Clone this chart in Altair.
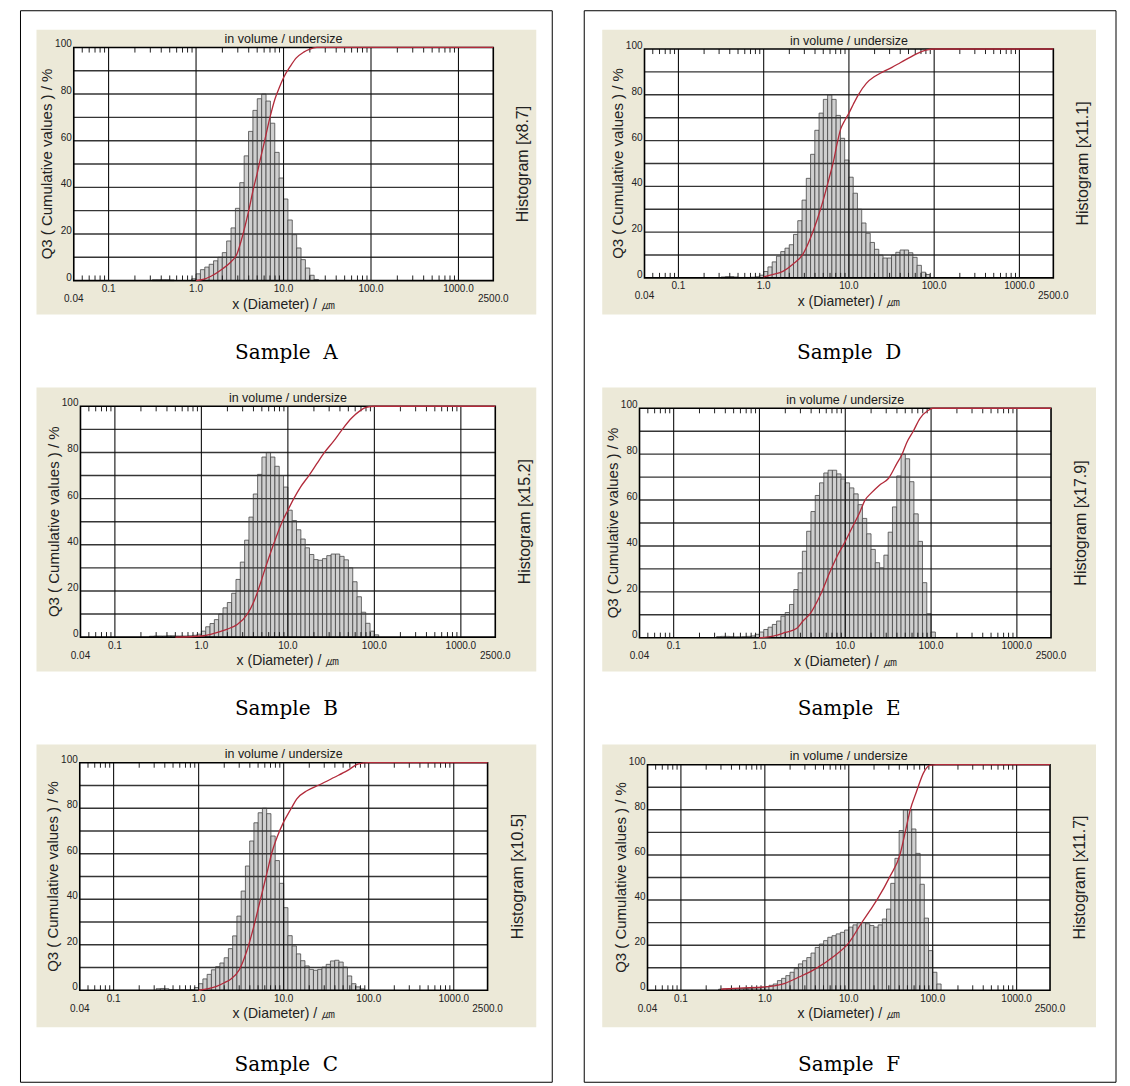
import altair as alt
import pandas as pd

# ---------------- data ----------------
# histogram classes: 20 log classes per decade, class k spans 10^(k/20) .. 10^((k+1)/20) µm
A_start = -10
A_hist = [0.4, 0.4, 0.4, 0.4, 0.3, 0, 0, 0, 0, 0.8,
          2.9, 4.7, 5.8, 7, 8.5, 10, 12, 17, 22.6, 31, 42, 53.5, 64, 73, 78, 80,
          77, 67.5, 55, 44, 35, 26, 19.7, 14, 9, 5.4, 2.3, 0.5]
A_cum_x = [1.0, 1.2, 1.5, 2.0, 2.5, 2.9, 3.5, 4.0, 4.5, 5.0, 5.5, 6.0, 7.0, 8.0, 9.0,
           10, 12, 14, 17, 20, 24, 2500]
A_cum_y = [0, 0.5, 2, 5, 8, 11, 21, 30, 39, 46, 53, 59, 70, 78, 83,
           87, 92, 95.5, 98, 99.3, 100, 100]

B_start = -12
B_hist = [0.4, 0.5, 0.5, 0.5, 0.6, 0.6, 0.5, 0.5, 0.5, 0.6, 0.8, 1.3,
          2.6, 4.5, 5.9, 7.6, 10, 12.7, 15, 19, 25, 32.5, 42, 52, 62, 70.5, 78, 80,
          78, 74, 70, 65, 55, 50.5, 46.5, 42.5, 38.7, 35.8, 33.6, 33.3, 34, 35.3,
          36, 36, 35, 33.5, 30, 24, 17.5, 10.8, 6, 2.6, 1]
B_cum_x = [0.5, 1.0, 1.5, 2.0, 2.6, 3.4, 4.0, 4.5, 5.5, 6.8, 8.6, 10, 11.7, 14, 17.5,
           21.5, 26.5, 34, 42.6, 55, 68, 80, 100, 2500]
B_cum_y = [0, 0.5, 2, 3.5, 5.5, 10, 15, 20, 30, 40, 50, 55, 60, 65, 70,
           75, 80, 85, 90, 95, 98, 99.5, 100, 100]

C_start = -10
C_hist = [0.7, 0.8, 0.7, 0.3, 0.2, 0.2, 0.2, 0.2, 0.3, 1.2,
          2.9, 5, 7, 9, 10.4, 12, 14.3, 18.3, 23.9, 32.6, 43.6, 54.6, 65.6, 73.6, 78, 80,
          77.6, 67.8, 57, 47, 36.3, 24, 19.5, 16, 13, 10.7, 9.2, 8.8, 9.2, 10.2, 11.4,
          12.9, 13.2, 12.4, 10.2, 6.3, 2.9, 1.5, 0.6]
C_cum_x = [1.0, 1.3, 1.65, 2.0, 2.4, 3.0, 3.7, 4.45, 5.3, 6.4, 7.2, 8.4, 10, 12.3, 14.2,
           19, 26, 39, 56, 76, 100, 2500]
C_cum_y = [0, 0.7, 1.8, 3.3, 5, 9, 17.5, 28, 39.5, 52, 60, 67.5, 74, 80, 84,
           87.8, 90.2, 93.5, 96.5, 99.5, 100, 100]

D_start = -10
D_hist = [0.4, 0.6, 0.6, 0.4, 0.2, 0.2, 0.2, 0.3, 0.5, 1.2,
          2.8, 4.8, 7, 9.5, 11.5, 13, 14.5, 19, 25, 34, 43.5, 54, 64.5, 72, 78, 80,
          78, 71, 61, 51.5, 44, 37, 30, 24, 19.5, 15.5, 12.5, 10, 8.7, 8.7, 10, 11.2,
          12.2, 12.2, 11, 9, 5.5, 2.5, 1.5]
D_cum_x = [1.0, 1.3, 1.7, 2.2, 2.9, 3.5, 4.2, 5.0, 6.0, 6.6, 7.2, 8.0, 9.0, 10, 11.3,
           12.9, 16, 20, 25, 32, 40, 50, 63, 80, 100, 2500]
D_cum_y = [0.5, 1.5, 3, 6, 10.5, 17, 25, 34, 45, 51, 58, 65, 69, 72, 76,
           80, 85, 88, 90, 92, 94, 96, 98, 99.5, 100, 100]

E_start = -10
E_hist = [0.5, 0.6, 0.6, 0.5, 0.4, 0.4, 0.5, 0.6, 0.8, 1.5,
          2.5, 3.6, 4.6, 5.8, 7.3, 9.4, 11, 14.5, 21, 28.3, 37.7, 46.4, 55, 62, 67.5,
          71.8, 73, 73, 71.4, 69.2, 67.5, 65.3, 62.7, 58, 52, 45.3, 38.5, 32.7, 30.5,
          36, 46, 57, 70.5, 80, 78, 68, 54, 42, 24, 10.5, 2.5]
E_cum_x = [1.0, 1.45, 2.0, 2.7, 3.25, 3.9, 5.1, 6.6, 7.9, 10, 12.4, 14.5, 17, 20, 25,
           32, 40, 46, 52, 62, 74, 92, 105, 2500]
E_cum_y = [0, 0.7, 2.3, 4, 7.5, 10.5, 18.5, 28.5, 35, 42, 49, 54, 60, 63, 66.5,
           69.5, 76, 80, 85, 90, 95.5, 99, 100, 100]

F_start = -11
F_hist = [0.5, 0.6, 0.6, 0.7, 0.7, 0.8, 0.8, 0.9, 1.0, 1.1, 1.3,
          1.6, 2.2, 2.8, 4.3, 5.3, 6.5, 8, 9.6, 11.7, 13.1, 14.5, 16.5, 19, 20.5, 22,
          23.5, 24.2, 25, 25.7, 26.7, 28, 29, 30, 30, 29.5, 28.7, 28, 29, 31.6, 36,
          47.4, 58.5, 70.8, 80, 80, 71.5, 60.7, 47, 32, 17.6, 8, 2.8]
F_cum_x = [0.3, 0.5, 1.0, 1.7, 2.6, 4.0, 6.6, 10, 14, 18, 22, 31, 41, 47, 54,
           64, 78, 93, 110, 2500]
F_cum_y = [0.5, 1, 1.5, 3, 6, 9.5, 15, 21, 29.5, 35.5, 40.5, 50.5, 60.5, 70, 80,
           88, 96.5, 99.8, 100, 100]

factors = {"A": "8.7", "B": "15.2", "C": "10.5", "D": "11.1", "E": "17.9", "F": "11.7"}

x_domain = [0.04, 2500]
x_label_values = [0.1, 1, 10, 100, 1000]
x_label_texts = ["0.1", "1.0", "10.0", "100.0", "1000.0"]
x_end_values = [0.04, 2500]
x_end_texts = ["0.04", "2500.0"]
y_label_values = [0, 20, 40, 60, 80, 100]
y_label_texts = ["0", "20", "40", "60", "80", "100"]
h_grid = [10, 20, 30, 40, 50, 60, 70, 80, 90]
v_grid = [0.1, 1, 10, 100, 1000]
minor_ticks = ([0.05, 0.06, 0.07, 0.08, 0.09]
               + [0.2, 0.3, 0.4, 0.5, 0.6, 0.7, 0.8, 0.9]
               + [2, 3, 4, 5, 6, 7, 8, 9]
               + [20, 30, 40, 50, 60, 70, 80, 90]
               + [200, 300, 400, 500, 600, 700, 800, 900])

# ---------------- layout (pixels) ----------------
LAYOUT = {
    "A": dict(W=500, H=285, dx=37.3, dy=17.7, w=419.7, h=233.3),
    "B": dict(W=500, H=284, dx=44.0, dy=18.7, w=415.0, h=231.0),
    "C": dict(W=500, H=283, dx=43.3, dy=18.3, w=408.0, h=227.7),
    "D": dict(W=494, H=285, dx=42.3, dy=19.3, w=409.0, h=229.0),
    "E": dict(W=494, H=284, dx=37.3, dy=20.7, w=411.7, h=229.6),
    "F": dict(W=494, H=283, dx=45.3, dy=20.3, w=402.7, h=225.7),
}
OUTER = {"A": (-16, 516, -19, 1053), "D": (-18, 514, -19, 1053)}

SANS = "Liberation Sans"
INK = "#222222"


def make_panel(key, start, hist, cx, cy):
    L = LAYOUT[key]
    dx, dy, w, h, W, H = L["dx"], L["dy"], L["w"], L["h"], L["W"], L["H"]
    xs = alt.Scale(type="log", domain=x_domain, range=[dx, dx + w], nice=False)
    ys = alt.Scale(type="linear", domain=[0, 100], range=[dy + h, dy], nice=False, zero=False)

    def X(f):
        return alt.X(f, scale=xs, axis=None)

    def Y(f):
        return alt.Y(f, scale=ys, axis=None)

    box = pd.DataFrame({"x": [0.04], "x2": [2500.0], "y": [0.0], "y2": [100.0]})

    plot_bg = alt.Chart(box).mark_rect(fill="white", strokeWidth=0).encode(
        x=X("x:Q"), x2="x2:Q", y=Y("y:Q"), y2="y2:Q")

    ks = list(range(start, start + len(hist)))
    bars_df = pd.DataFrame({
        "lo": [10 ** (k / 20) for k in ks],
        "hi": [10 ** ((k + 1) / 20) for k in ks],
        "base": [0.0] * len(ks),
        "v": hist,
    })
    bars_df = bars_df[bars_df["v"] > 0]
    bars = alt.Chart(bars_df).mark_rect(fill="#cfcfcf", stroke="#474747", strokeWidth=0.8).encode(
        x=X("lo:Q"), x2="hi:Q", y=Y("base:Q"), y2="v:Q")

    hg = pd.DataFrame({"y": h_grid, "x": [0.04] * len(h_grid), "x2": [2500.0] * len(h_grid)})
    hgrid = alt.Chart(hg).mark_rule(color="#353535", strokeWidth=1.4).encode(
        x=X("x:Q"), x2="x2:Q", y=Y("y:Q"))

    vg = pd.DataFrame({"x": v_grid, "y": [0.0] * len(v_grid), "y2": [100.0] * len(v_grid)})
    vgrid = alt.Chart(vg).mark_rule(color="#111111", strokeWidth=1.1).encode(
        x=X("x:Q"), y=Y("y:Q"), y2="y2:Q")

    n = len(minor_ticks)
    tk = pd.DataFrame({"x": minor_ticks * 2,
                       "y": [0.0] * n + [97.8] * n,
                       "y2": [2.2] * n + [100.0] * n})
    ticks = alt.Chart(tk).mark_rule(color=INK, strokeWidth=1).encode(
        x=X("x:Q"), y=Y("y:Q"), y2="y2:Q")

    frame = alt.Chart(box).mark_rect(filled=False, stroke="black", strokeWidth=1.6).encode(
        x=X("x:Q"), x2="x2:Q", y=Y("y:Q"), y2="y2:Q")

    cum_df = pd.DataFrame({"x": cx, "y": cy})
    curve = alt.Chart(cum_df).mark_line(color="#b22a3a", strokeWidth=1.3,
                                        interpolate="monotone").encode(
        x=X("x:Q"), y=Y("y:Q"))

    # axis labels (placed through the scales)
    yl = pd.DataFrame({"x": [0.04] * len(y_label_values), "y": y_label_values, "t": y_label_texts})
    ylab = alt.Chart(yl).mark_text(dx=-2, align="right", baseline="alphabetic", font=SANS,
                                   fontSize=10, color=INK).encode(
        x=X("x:Q"), y=Y("y:Q"), text="t:N")

    xl = pd.DataFrame({"x": x_label_values, "y": [0.0] * len(x_label_values), "t": x_label_texts})
    xlab = alt.Chart(xl).mark_text(dy=8.5, align="center", baseline="middle", font=SANS,
                                   fontSize=10, color=INK).encode(
        x=X("x:Q"), y=Y("y:Q"), text="t:N")

    xe = pd.DataFrame({"x": x_end_values, "y": [0.0, 0.0], "t": x_end_texts})
    xend = alt.Chart(xe).mark_text(dy=18.5, align="center", baseline="middle", font=SANS,
                                   fontSize=10, color=INK).encode(
        x=X("x:Q"), y=Y("y:Q"), text="t:N")

    xt = pd.DataFrame({"x": [10.0], "y": [0.0], "t": ["x (Diameter) / ㎛"]})
    xtitle = alt.Chart(xt).mark_text(dy=24, align="center", baseline="middle", font=SANS,
                                     fontSize=14, color=INK).encode(
        x=X("x:Q"), y=Y("y:Q"), text="t:N")

    yt = pd.DataFrame({"t": ["Q3 ( Cumulative values ) / %"]})
    ytitle = alt.Chart(yt).mark_text(angle=270, align="center", baseline="middle", font=SANS,
                                     fontSize=15, color=INK).encode(
        x=alt.value(dx - 26.5), y=alt.value(dy + h / 2), text="t:N")

    top_df = pd.DataFrame({"x": [10.0], "y": [100.0], "t": ["in volume / undersize"]})
    top_text = alt.Chart(top_df).mark_text(dy=-8.4, font=SANS, fontSize=12.5, color="#1a1a1a",
                                           align="center", baseline="middle").encode(
        x=X("x:Q"), y=Y("y:Q"), text="t:N")

    hist_df = pd.DataFrame({"t": [f"Histogram [x{factors[key]}]"]})
    hist_text = alt.Chart(hist_df).mark_text(angle=270, font=SANS, fontSize=16, color=INK,
                                             align="center", baseline="middle").encode(
        x=alt.value(dx + w + 30), y=alt.value(dy + h / 2), text="t:N")

    cap_df = pd.DataFrame({"t": [f"Sample\u00a0 {key}"]})
    caption = alt.Chart(cap_df).mark_text(font="DejaVu Serif", fontSize=20, color="black",
                                          align="center", baseline="middle").encode(
        x=alt.value(W / 2), y=alt.value(H + 38), text="t:N")

    layers = [plot_bg, bars, hgrid, vgrid, ticks, frame, curve,
              ylab, xlab, xend, xtitle, ytitle, top_text, hist_text, caption]
    if key in OUTER:
        x0, x1, y0, y1 = OUTER[key]
        od = pd.DataFrame({"a": [0]})
        outer = alt.Chart(od).mark_rect(filled=False, stroke="black", strokeWidth=1).encode(
            x=alt.value(x0), x2=alt.value(x1), y=alt.value(y0), y2=alt.value(y1))
        layers.append(outer)

    return alt.layer(*layers).properties(width=W, height=H)


pA = make_panel("A", A_start, A_hist, A_cum_x, A_cum_y)
pB = make_panel("B", B_start, B_hist, B_cum_x, B_cum_y)
pC = make_panel("C", C_start, C_hist, C_cum_x, C_cum_y)
pD = make_panel("D", D_start, D_hist, D_cum_x, D_cum_y)
pE = make_panel("E", E_start, E_hist, E_cum_x, E_cum_y)
pF = make_panel("F", F_start, F_hist, F_cum_x, F_cum_y)

chart = alt.concat(pA, pD, pB, pE, pC, pF, columns=2,
                   spacing={"row": 73, "column": 66}, bounds="flush").properties(
    padding={"left": 11.5, "top": 1.5, "right": 5, "bottom": 5}
).configure_view(fill="#ece9d8", strokeWidth=0)

chart.save("out.html", embed_options={"renderer": "svg", "actions": False})
